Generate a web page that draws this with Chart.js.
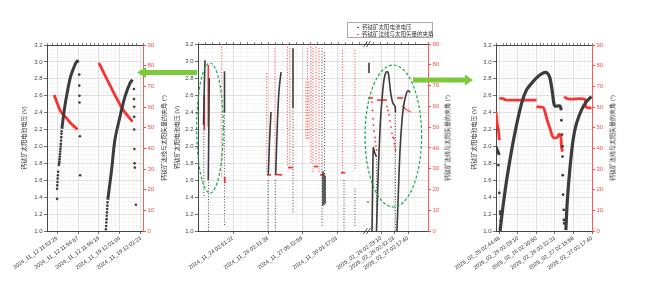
<!DOCTYPE html>
<html>
<head>
<meta charset="utf-8">
<title>钙钛矿太阳电池电压与夹角</title>
<script src="https://cdn.jsdelivr.net/npm/chart.js@4.4.1/dist/chart.umd.min.js"></script>
<style>
  html, body { margin: 0; padding: 0; background: #fff; }
  body { width: 650px; height: 291px; position: relative; overflow: hidden;
         font-family: "Liberation Sans", "Noto Sans CJK SC", sans-serif; }
  canvas { position: absolute; top: 0; }
  .ytitle { position: absolute; top: 138px; white-space: nowrap; font-size: 6px; color: #333;
            transform: translate(-50%, -50%) rotate(-90deg); }
  #legend { position: absolute; left: 347px; top: 22px; width: 86px; height: 16px;
            box-sizing: border-box; border: 0.7px solid #aaa; background: #fff;
            font-size: 5.5px; color: #333; }
  #legend .row { position: absolute; left: 14px; white-space: nowrap; line-height: 7px; }
  #legend .mk { position: absolute; left: -5px; top: 2.5px; width: 1.6px; height: 1.6px; border-radius: 1px; }
  svg { position: absolute; left: 0; top: 0; }
</style>
</head>
<body>
<canvas id="leftChart" width="170" height="291" style="left:0"></canvas>
<canvas id="midChart" width="290" height="291" style="left:168px"></canvas>
<canvas id="rightChart" width="200" height="291" style="left:450px"></canvas>

<div class="ytitle" style="left:163px">钙钛矿法线与太阳矢量的夹角 (°)</div>
<div class="ytitle" style="left:447px">钙钛矿法线与太阳矢量的夹角 (°)</div>
<div class="ytitle" style="left:612px">钙钛矿法线与太阳矢量的夹角 (°)</div>

<div id="legend">
  <div class="row" style="top:1px"><span class="mk" style="background:#333"></span>钙钛矿太阳电池电压</div>
  <div class="row" style="top:8px"><span class="mk" style="background:#ff3030"></span>钙钛矿法线与太阳矢量的夹角</div>
</div>

<svg width="650" height="291">
  <polygon points="137,72.5 146,67 146,70 197,70 197,75 146,75 146,78" fill="#7cc93a"/>
  <polygon points="473,80 465,74.5 465,77.5 413,77.5 413,82.5 465,82.5 465,85.5" fill="#7cc93a"/>
  <ellipse cx="210" cy="128" rx="13.3" ry="65" fill="none" stroke="#1fa855" stroke-width="1.2" stroke-dasharray="3 2"/>
  <ellipse cx="393.3" cy="136" rx="28.3" ry="71" fill="none" stroke="#1fa855" stroke-width="1.2" stroke-dasharray="3 2"/>
  <g stroke="#333" stroke-width="0.8">
    <line x1="363.5" y1="47" x2="367.5" y2="41"/><line x1="366.5" y1="47" x2="370.5" y2="41"/>
    <line x1="363.5" y1="234" x2="367.5" y2="228"/><line x1="366.5" y1="234" x2="370.5" y2="228"/>
  </g>
</svg>

<script>
const FONT = '"Liberation Sans", "Noto Sans CJK SC", sans-serif';
const BLACK = '#3c3c3c';
const RED = '#ff3030';

const voltTicks = [1.0, 1.2, 1.4, 1.6, 1.8, 2.0, 2.2, 2.4, 2.6, 2.8, 3.0, 3.2];
const angleTicks = [0, 10, 20, 30, 40, 50, 60, 70, 80, 90];

// left panel (2024_11_12 / 2024_11_19)
const leftTickLabels = ['2024_11_12 11:53:25', '2024_11_12 11:54:57', '2024_11_12 11:56:19', '2024_11_19 12:01:04', '2024_11_19 12:02:23'];
const leftTickPos = [0, 1, 2, 3, 4];
const leftVoltRiseA = [[0.23, 2.21], [0.3, 2.35], [0.4, 2.52], [0.54, 2.71], [0.65, 2.83], [0.81, 2.94], [0.9, 2.99], [0.97, 3.01], [1.0, 2.99]];
const leftVoltRiseB = [[2.42, 1.37], [2.6, 1.72], [2.76, 2.08], [3.0, 2.35], [3.24, 2.59], [3.48, 2.75], [3.6, 2.79]];
const leftVoltDots = [[0, 1.38], [0, 1.5], [0.01, 1.54], [0.02, 1.58], [0.03, 1.62], [0.04, 1.66], [0.05, 1.7],
  [0.09, 1.78], [0.1, 1.8], [0.11, 1.82], [0.12, 1.85], [0.13, 1.88], [0.14, 1.91], [0.15, 1.94], [0.16, 1.97],
  [0.17, 2.0], [0.18, 2.03], [0.19, 2.07], [0.2, 2.11], [0.21, 2.15], [0.22, 2.18],
  [1.06, 2.85], [1.06, 2.72], [1.07, 2.6], [1.07, 2.52], [1.09, 2.12], [1.1, 1.66],
  [2.33, 1.02], [2.34, 1.06], [2.35, 1.1], [2.36, 1.14], [2.37, 1.18], [2.38, 1.22], [2.39, 1.26], [2.4, 1.3], [2.41, 1.34],
  [3.67, 2.68], [3.67, 2.56], [3.68, 2.47], [3.68, 2.35], [3.68, 2.2], [3.69, 1.97], [3.7, 1.8], [3.71, 1.75], [3.76, 1.31]];
const leftAngleA = [[-0.14, 65.8], [-0.02, 62.6], [0.14, 58.5], [0.3, 56.2], [0.46, 54.5], [0.7, 51.6], [0.98, 49.2]];
const leftAngleB = [[1.99, 81.4], [2.2, 77.1], [2.52, 70.6], [2.84, 64.2], [3.16, 58.5], [3.6, 52.9]];

// middle panel (overview, axis broken before 2025)
const midTickLabels = ['2024_11_24 02:51:22', '2024_11_26 02:31:38', '2024_11_27 05:32:59', '2024_11_30 01:37:03', '2025_02_26 02:29:10', '2025_02_26 02:32:33', '2025_02_27 02:17:40'];
const midTickPos = [35, 70, 104, 139, 183, 196, 210];
const midVoltCurves = [
  [[5.5, 2.25], [6.3, 2.7], [7, 3.01]],
  [[10.3, 1.6], [10.8, 2.2], [11.3, 2.8]],
  [[26.5, 2.88], [26.5, 2.4]],
  [[70.3, 1.66], [71.5, 2.05], [73, 2.4]],
  [[77.7, 1.66], [79.5, 2.3], [81, 2.65], [83, 2.87]],
  [[95, 3.15], [95, 2.45]],
  [[125, 1.7], [125, 1.3]],
  [[127, 1.65], [127, 1.32]],
  [[171, 2.98], [171, 2.86]],
  [[174, 1.0], [174.6, 1.5], [175.3, 1.98], [176.5, 1.93], [178.5, 1.87]],
  [[178.5, 1.0], [180, 1.6], [182, 2.2], [184, 2.55], [186, 2.78], [188, 2.87], [190, 2.87], [191.5, 2.75], [193, 2.6], [195, 2.5], [197, 2.47], [197.5, 2.4]],
  [[199, 1.0], [200.5, 1.5], [202, 1.95], [204, 2.3], [206, 2.5], [208.7, 2.63], [210.5, 2.65], [212, 2.63]]
];
const midVoltColumns = [[5.8, 2.25, 1.4], [10.5, 2.2, 1.0], [26.5, 2.4, 1.05], [70, 1.6, 1.0], [77.3, 1.6, 1.0], [95, 2.45, 1.2],
  [124, 3.15, 1.05], [126.5, 3.1, 1.3], [146, 1.6, 1.0], [157, 1.5, 1.05], [178.5, 1.85, 1.0], [197.5, 2.4, 1.0]];
const midAngleCurves = [
  [[6.3, 65.4], [6.3, 48.6]],
  [[10.3, 79.9], [10.3, 50.2]],
  [[26.5, 26], [26.8, 23]],
  [[69, 27], [73, 27]],
  [[77, 27.2], [84, 27]],
  [[90, 30.5], [95, 30.5]],
  [[116, 31], [120, 31]],
  [[122, 27], [127, 27]],
  [[143, 28], [147, 28]],
  [[170, 64], [175, 64]],
  [[179, 63], [189, 63]],
  [[199, 64], [205, 64]]
];
const midAngleColumns = [[23.7, 90, 26], [68.7, 76, 28], [77, 88, 27], [89.5, 90, 31], [92, 88, 31], [108, 72, 44], [109.5, 88, 44],
  [111, 72, 44], [113, 90, 33], [115, 88, 28], [118, 90, 31], [121, 88, 28], [144.5, 87, 28], [157, 87, 30]];
const midAngleDots = [[170, 14], [174, 62], [174.5, 58], [175, 54], [175.5, 51], [176, 48], [177, 45], [177.5, 43], [178, 41], [178.7, 39],
  [189, 60], [190, 58], [191, 56], [192, 53], [193, 50], [194, 47], [195, 45], [196, 44.5], [196.5, 42], [197, 40.5], [197.5, 39],
  [205, 60], [206.5, 59.2], [208, 58.5], [210, 58], [212, 57.5]];

// right panel (2025_02_25 .. 2025_02_27)
const rightTickLabels = ['2025_02_25 02:44:48', '2025_02_26 02:29:10', '2025_02_26 02:30:50', '2025_02_26 02:32:33', '2025_02_27 02:15:58', '2025_02_27 02:17:40'];
const rightTickPos = [0, 1, 2, 3, 4, 5];
const rightVoltStart = [[-0.18, 2.0], [-0.12, 1.96], [-0.06, 1.93], [0, 1.9]];
const rightVoltCurveA = [[0.04, 1.0], [0.22, 1.33], [0.48, 1.72], [0.84, 2.16], [1.2, 2.51], [1.47, 2.67], [1.83, 2.77], [2.1, 2.83],
  [2.37, 2.87], [2.58, 2.87], [2.73, 2.81], [2.87, 2.63], [2.99, 2.48], [3.26, 2.48], [3.35, 2.43]];
const rightVoltCurveB = [[3.59, 1.01], [3.66, 1.33], [3.8, 1.72], [3.98, 2.08], [4.16, 2.27], [4.43, 2.43], [4.7, 2.53], [4.97, 2.59]];
const rightVoltDots = [[-0.05, 1.78], [0, 1.45], [0.04, 1.23], [0.05, 1.2], [0.07, 1.12],
  [3.35, 2.31], [3.38, 2.14], [3.41, 2.0], [3.41, 1.88], [3.42, 1.66], [3.44, 1.43], [3.48, 1.25], [3.48, 1.13], [3.5, 1.09]];
const rightAngleA = [[-0.18, 57.7], [-0.12, 52], [-0.05, 48.9], [0, 44]];
const rightAngleB = [[0, 64.2], [0.25, 64], [0.3, 63.4], [2.01, 63.3]];
const rightAngleC = [[2.0, 60.1], [2.37, 59.8], [2.46, 57.7], [2.58, 53.7], [2.76, 48.9], [2.9, 45.3], [3.12, 45.3], [3.23, 46.9], [3.32, 45.5], [3.35, 40.8], [3.41, 38.4]];
const rightAngleD = [[3.5, 65], [3.62, 64.2], [3.8, 63.8], [4.61, 63.7], [4.66, 60.1], [4.97, 59.5]];

function toXY(arr) {
    return arr.map(p => ({ x: p[0], y: p[1] }));
}

function curve(arr, color, axis, width) {
    return { type: 'line', data: toXY(arr), borderColor: color, borderWidth: width, pointRadius: 0,
             tension: arr.length > 2 ? 0.3 : 0, yAxisID: axis };
}

function dots(arr, color, axis, r) {
    return { type: 'scatter', data: toXY(arr), backgroundColor: color, borderWidth: 0, pointRadius: r, yAxisID: axis };
}

function column(c, color, axis) {
    return { type: 'line', data: [{ x: c[0], y: c[1] }, { x: c[0], y: c[2] }], borderColor: color, borderWidth: 1.1,
             borderDash: [1, 1.8], pointRadius: 0, yAxisID: axis };
}

function makePanel(id, cfg) {
    const tickFont = { size: 6, family: FONT };
    new Chart(document.getElementById(id), {
        type: 'scatter',
        data: { datasets: cfg.datasets },
        options: {
            responsive: false,
            animation: false,
            layout: { padding: cfg.padding },
            plugins: { legend: { display: false }, tooltip: { enabled: false } },
            scales: {
                xMinor: {
                    type: 'linear', position: 'bottom', min: cfg.xMin, max: cfg.xMax, z: -1,
                    ticks: { display: false, stepSize: cfg.minorStep, maxTicksLimit: 300 },
                    grid: { color: '#eeeeee', lineWidth: 0.5, drawTicks: false },
                    border: { display: false },
                    afterFit: a => { a.height = 0; a.paddingLeft = 0; a.paddingRight = 0; }
                },
                yMinor: {
                    type: 'linear', position: 'left', min: 1, max: 3.2, z: -1,
                    ticks: { display: false, stepSize: 0.05, maxTicksLimit: 300 },
                    grid: { color: '#eeeeee', lineWidth: 0.5, drawTicks: false },
                    border: { display: false },
                    afterFit: a => { a.width = 0; a.paddingTop = 0; a.paddingBottom = 0; }
                },
                x: {
                    type: 'linear', position: 'bottom', min: cfg.xMin, max: cfg.xMax,
                    afterBuildTicks: a => { a.ticks = cfg.tickPos.map(v => ({ value: v })); },
                    afterFit: a => { a.height = cfg.xHeight; a.paddingLeft = 0; a.paddingRight = 0; },
                    ticks: { autoSkip: false, minRotation: 35, maxRotation: 35, padding: 1, color: '#333',
                             font: { size: 5.5, family: FONT },
                             callback: v => cfg.tickLabels[cfg.tickPos.indexOf(v)] },
                    grid: { color: '#d6d6d6', lineWidth: 0.7, tickLength: 3, tickColor: '#333' },
                    border: { color: '#333', width: 0.9 }
                },
                xTop: {
                    type: 'linear', position: 'top', min: cfg.xMin, max: cfg.xMax,
                    ticks: { display: false, stepSize: cfg.minorStep, maxTicksLimit: 300 },
                    grid: { drawOnChartArea: false, tickLength: 2, tickColor: '#333', lineWidth: 0.6 },
                    border: { color: '#333', width: 0.9 },
                    afterFit: a => { a.height = 0; a.paddingLeft = 0; a.paddingRight = 0; }
                },
                yV: {
                    type: 'linear', position: 'left', min: 1, max: 3.2,
                    afterBuildTicks: a => { a.ticks = voltTicks.map(v => ({ value: v })); },
                    afterFit: a => { a.width = cfg.yVWidth; a.paddingTop = 0; a.paddingBottom = 0; },
                    ticks: { color: '#444', font: tickFont, padding: 1.5, callback: v => v.toFixed(1) },
                    grid: { color: '#d6d6d6', lineWidth: 0.7, tickLength: 3, tickColor: '#333' },
                    border: { color: '#333', width: 0.9 },
                    title: { display: true, text: '钙钛矿太阳电池电压 (V)', color: '#333', padding: 0,
                             font: { size: 6, family: FONT } }
                },
                yA: {
                    type: 'linear', position: 'right', min: 0, max: 90,
                    afterBuildTicks: a => { a.ticks = angleTicks.map(v => ({ value: v })); },
                    afterFit: a => { a.width = cfg.yAWidth; a.paddingTop = 0; a.paddingBottom = 0; },
                    ticks: { color: '#ff4a4a', font: tickFont, padding: 1.5 },
                    grid: { drawOnChartArea: false, tickLength: 3, tickColor: '#ff4a4a' },
                    border: { color: '#ff4a4a', width: 0.9 }
                }
            }
        }
    });
}

makePanel('leftChart', {
    padding: { left: 21, right: 3, top: 45, bottom: 2 },
    yVWidth: 26, yAWidth: 24, xHeight: 58,
    xMin: -0.48, xMax: 4.1, minorStep: 0.2,
    tickPos: leftTickPos, tickLabels: leftTickLabels,
    datasets: [
        curve(leftVoltRiseA, BLACK, 'yV', 3),
        curve(leftVoltRiseB, BLACK, 'yV', 3),
        dots(leftVoltDots, BLACK, 'yV', 1.3),
        curve(leftAngleA, RED, 'yA', 2.8),
        curve(leftAngleB, RED, 'yA', 2.8)
    ]
});

makePanel('midChart', {
    padding: { left: 6, right: 6, top: 44, bottom: 2 },
    yVWidth: 24, yAWidth: 24, xHeight: 58,
    xMin: 0, xMax: 230, minorStep: 7,
    tickPos: midTickPos, tickLabels: midTickLabels,
    datasets: [
        ...midVoltCurves.map(c => curve(c, BLACK, 'yV', 1.6)),
        ...midVoltColumns.map(c => column(c, '#555', 'yV')),
        ...midAngleCurves.map(c => curve(c, RED, 'yA', 1.6)),
        ...midAngleColumns.map(c => column(c, '#ff4a4a', 'yA')),
        dots(midAngleDots, RED, 'yA', 0.9)
    ]
});

makePanel('rightChart', {
    padding: { left: 21, right: 34, top: 45, bottom: 2 },
    yVWidth: 25, yAWidth: 24, xHeight: 58,
    xMin: -0.18, xMax: 5.0, minorStep: 0.2,
    tickPos: rightTickPos, tickLabels: rightTickLabels,
    datasets: [
        curve(rightVoltStart, BLACK, 'yV', 3),
        curve(rightVoltCurveA, BLACK, 'yV', 3.2),
        curve(rightVoltCurveB, BLACK, 'yV', 3.2),
        dots(rightVoltDots, BLACK, 'yV', 1.4),
        curve(rightAngleA, RED, 'yA', 2.8),
        curve(rightAngleB, RED, 'yA', 2.8),
        curve(rightAngleC, RED, 'yA', 2.8),
        curve(rightAngleD, RED, 'yA', 2.8)
    ]
});
</script>
</body>
</html>
